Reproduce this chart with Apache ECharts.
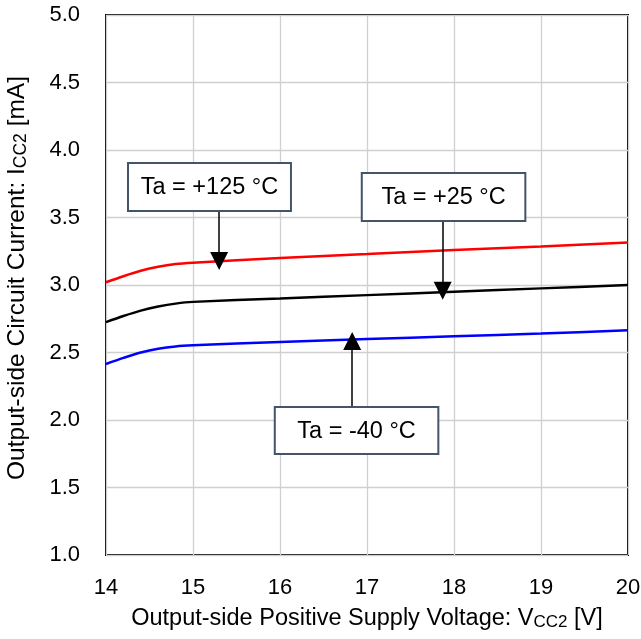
<!DOCTYPE html>
<html>
<head>
<meta charset="utf-8">
<script src="https://cdn.jsdelivr.net/npm/echarts@6/dist/echarts.min.js"></script>
<style>
html,body{margin:0;padding:0;background:#fff;}
#chart{width:641px;height:639px;}
</style>
</head>
<body>
<div id="chart"></div>
<script>
// Data
const vcc = [14, 14.2, 14.4, 14.6, 14.8, 15, 16, 17, 18, 19, 20];
const icc125 = [3.02, 3.065, 3.105, 3.135, 3.155, 3.165, 3.20, 3.23, 3.26, 3.285, 3.315];
const icc25  = [2.725, 2.77, 2.81, 2.84, 2.862, 2.875, 2.90, 2.925, 2.95, 2.975, 3.00];
const iccM40 = [2.415, 2.46, 2.50, 2.528, 2.545, 2.553, 2.578, 2.60, 2.62, 2.64, 2.665];
const xTicks = [14, 15, 16, 17, 18, 19, 20];
const yTicks = [1.0, 1.5, 2.0, 2.5, 3.0, 3.5, 4.0, 4.5, 5.0];
// Annotations (data coordinates): box [x0, y0, x1, y1], arrow [x, yFrom, yTo]
const labels = ['Ta = +125 °C', 'Ta = +25 °C', 'Ta = -40 °C'];
const boxes = [[14.253, 3.904, 16.126, 3.548], [16.94, 3.83, 18.82, 3.474], [15.94, 2.096, 17.82, 1.748]];
const arrows = [[15.30, 3.548, 3.178], [17.87, 3.474, 2.958], [16.83, 2.096, 2.585]];

const toPairs = (ys) => vcc.map((x, i) => [x, ys[i]]);
const chart = echarts.init(document.getElementById('chart'));
const font = 'Liberation Sans, Arial, sans-serif';

const option = {
  animation: false,
  backgroundColor: '#fff',
  grid: {left: 106, right: 13, top: 15, bottom: 84, containLabel: false, outerBoundsMode: 'none',
    show: true, borderColor: '#000', borderWidth: 2, backgroundColor: 'transparent'},
  xAxis: {
    type: 'value', min: 14, max: 20, interval: 1,
    axisLine: {show: false}, axisTick: {show: false},
    splitLine: {show: true, lineStyle: {color: '#d0d0d0', width: 1.3}},
    axisLabel: {color: '#000', fontSize: 22, fontFamily: font, margin: 22,
      formatter: (v) => xTicks.includes(v) ? String(v) : ''},
    name: 'Output-side Positive Supply Voltage: V{sub|CC2} [V]',
    nameLocation: 'middle', nameGap: 52,
    nameTextStyle: {color: '#000', fontSize: 23.5, fontFamily: font,
      rich: {sub: {fontSize: 17, fontFamily: font, color: '#000', padding: [7, 0, 0, 0]}}}
  },
  yAxis: {
    type: 'value', min: 1.0, max: 5.0, interval: 0.5,
    axisLine: {show: false}, axisTick: {show: false},
    splitLine: {show: true, lineStyle: {color: '#d0d0d0', width: 1.3}},
    axisLabel: {color: '#000', fontSize: 22, fontFamily: font, margin: 26,
      formatter: (v) => v.toFixed(1)},
    name: 'Output-side Circuit Current: I{sub|CC2} [mA]',
    nameLocation: 'middle', nameGap: 76,
    nameTextStyle: {color: '#000', fontSize: 24.5, fontFamily: font, padding: [0, 0, 0, 14],
      rich: {sub: {fontSize: 17.5, fontFamily: font, color: '#000', padding: [7, 0, 0, 0]}}}
  },
  series: [
    {type: 'line', data: toPairs(icc125), smooth: 0.3, symbol: 'none', lineStyle: {color: '#ff0000', width: 2.5}, z: 3},
    {type: 'line', data: toPairs(icc25), smooth: 0.3, symbol: 'none', lineStyle: {color: '#000000', width: 2.5}, z: 3},
    {type: 'line', data: toPairs(iccM40), smooth: 0.3, symbol: 'none', lineStyle: {color: '#0000ff', width: 2.5}, z: 3},
    {type: 'line', data: [], symbol: 'none', z: 5,
      markLine: {
        silent: true, symbol: ['none', 'triangle'], symbolSize: 18,
        label: {show: false},
        lineStyle: {color: '#000', width: 1.5, type: 'solid'},
        data: arrows.map(a => [{coord: [a[0], a[1]]}, {coord: [a[0], a[2]]}])
      }
    }
  ]
};
chart.setOption(option);

const graphics = boxes.map((b, i) => {
  const p0 = chart.convertToPixel({gridIndex: 0}, [b[0], b[1]]);
  const p1 = chart.convertToPixel({gridIndex: 0}, [b[2], b[3]]);
  return {
    type: 'group', z: 10,
    children: [
      {type: 'rect', shape: {x: p0[0], y: p0[1], width: p1[0] - p0[0], height: p1[1] - p0[1]},
        style: {fill: '#fff', stroke: '#44546a', lineWidth: 2}, z: 10},
      {type: 'text', x: (p0[0] + p1[0]) / 2, y: (p0[1] + p1[1]) / 2 + 1, z: 11,
        style: {text: labels[i], fill: '#000', font: '23.5px ' + font, align: 'center', verticalAlign: 'middle'}}
    ]
  };
});
chart.setOption({graphic: graphics});
</script>
</body>
</html>
